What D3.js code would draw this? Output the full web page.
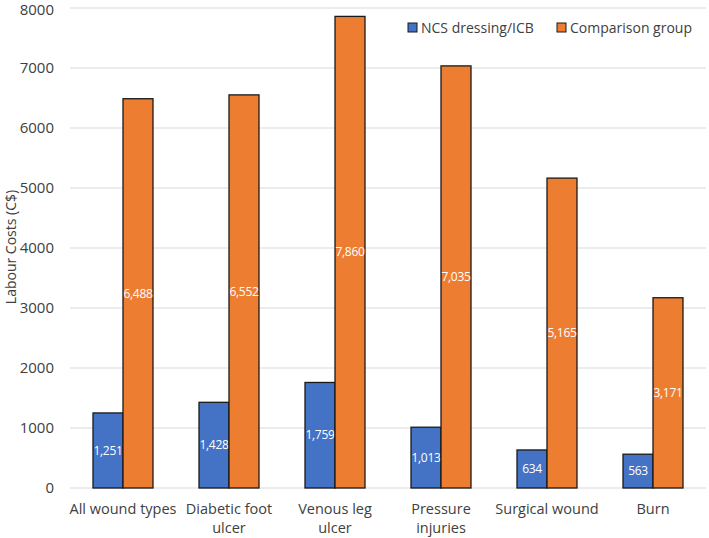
<!DOCTYPE html>
<html><head><meta charset="utf-8">
<script src="https://cdn.jsdelivr.net/npm/d3@7"></script>
<style>body{margin:0;background:#fff;} text{font-family:"Open Sans","Noto Sans",sans-serif;}</style>
</head><body>
<svg id="c" width="709" height="538"></svg>
<script>
const categories = [["All wound types"],["Diabetic foot","ulcer"],["Venous leg","ulcer"],["Pressure","injuries"],["Surgical wound"],["Burn"]];
const seriesNames = ["NCS dressing/ICB","Comparison group"];
const ncs = [1251,1428,1759,1013,634,563];
const comparison = [6488,6552,7860,7035,5165,3171];
const yTicks = [0,1000,2000,3000,4000,5000,6000,7000,8000];
const colors = ["#4472C4","#ED7D31"];

const svg = d3.select("#c");
const m = {l:70, r:3, t:8, b:50};
const W = 709, H = 538;
const x = d3.scaleBand().domain(d3.range(categories.length)).range([m.l, W-m.r]).paddingInner(0.434).paddingOuter(0.217);
const y = d3.scaleLinear().domain([0,8000]).range([488, 8]);
const xs = d3.scaleBand().domain([0,1]).range([0, x.bandwidth()]);

// gridlines
svg.append("g").selectAll("line").data(yTicks).join("line")
  .attr("x1", m.l).attr("x2", W-m.r).attr("y1", d=>y(d)).attr("y2", d=>y(d))
  .attr("stroke","#d9d9d9").attr("stroke-width",1);

// y axis labels
const ya = svg.append("g").attr("transform",`translate(${m.l},0)`)
  .call(d3.axisLeft(y).tickValues(yTicks).tickFormat(d=>d).tickSize(0).tickPadding(16));
ya.select(".domain").remove();
ya.selectAll("text").attr("font-size",15).attr("fill","#404040").style("font-family",'"Open Sans","Noto Sans",sans-serif')
  .attr("dy", d => d===8000 ? "0.4em" : "0.32em");

svg.append("text").attr("transform","translate(11,247) rotate(-90)").attr("text-anchor","middle").attr("dy","0.35em")
  .attr("font-size",14).attr("fill","#404040").text("Labour Costs (C$)");

const data = [ncs, comparison];
const g = svg.append("g");
categories.forEach((c,i)=>{
  data.forEach((s,j)=>{
    const bx = x(i)+xs(j), bw = xs.bandwidth();
    g.append("rect").attr("x",bx).attr("y",y(s[i])).attr("width",bw).attr("height",y(0)-y(s[i]))
      .attr("fill",colors[j]).attr("stroke","#1a1a1a").attr("stroke-width",1.3);
    g.append("text").attr("x",bx+bw/2).attr("y",(y(s[i])+y(0))/2).attr("dy","0.35em")
      .attr("text-anchor","middle").attr("font-size",12).attr("letter-spacing","-0.3")
      .attr("fill","#fff").text(d3.format(",")(s[i]));
  });
});

// x labels
const xa = svg.append("g");
categories.forEach((c,i)=>{
  const t = xa.append("text").attr("x", x(i)+x.bandwidth()/2).attr("y",514).attr("text-anchor","middle")
    .attr("font-size",14.5).attr("fill","#404040");
  c.forEach((line,k)=>t.append("tspan").attr("x",x(i)+x.bandwidth()/2).attr("dy",k?19:0).text(line));
});

// legend
const leg = svg.append("g");
const legX = [408, 557];
seriesNames.forEach((n,j)=>{
  leg.append("rect").attr("x",legX[j]).attr("y",23).attr("width",9).attr("height",9)
    .attr("fill",colors[j]).attr("stroke","#1a1a1a").attr("stroke-width",1);
  leg.append("text").attr("x",legX[j]+13).attr("y",28).attr("dy","0.35em").attr("font-size",14)
    .attr("fill","#404040").text(n);
});
</script>
</body></html>
